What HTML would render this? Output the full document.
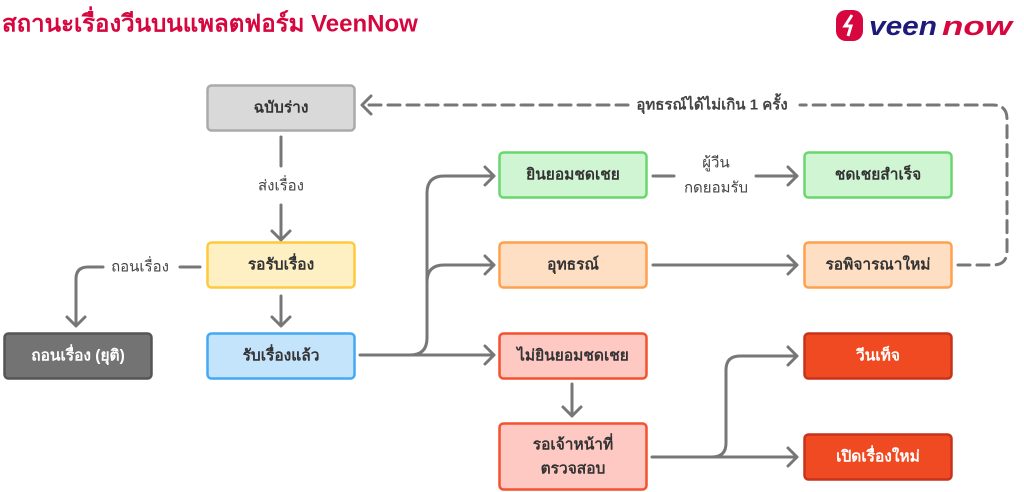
<!DOCTYPE html>
<html><head><meta charset="utf-8"><style>
body{margin:0;background:#fff;}
svg{display:block;}
text{font-family:"Liberation Sans","Noto Sans CJK SC",sans-serif;}
.b{font-weight:bold;font-size:15.5px;fill:#333;text-anchor:middle;dominant-baseline:central;}
.w{fill:#fff;}
.l{font-size:15px;fill:#444;text-anchor:middle;dominant-baseline:central;}
.c{fill:none;stroke:#777;stroke-width:3;stroke-linecap:round;stroke-linejoin:round;}
</style></head><body>
<svg width="1024" height="492" viewBox="0 0 1024 492" xmlns="http://www.w3.org/2000/svg">
<text x="2" y="24" font-size="24" font-weight="bold" fill="#d6063f" dominant-baseline="central">สถานะเรื่องวีนบนแพลตฟอร์ม VeenNow</text>
<!-- logo -->
<rect x="836" y="10" width="27" height="31" rx="10" fill="#d6063f"/>
<path d="M852 15 l-7 11 h6 l-3 10" stroke="#fff" stroke-width="3" fill="none"/>
<text x="869" y="26" font-size="27" font-weight="bold" font-style="italic" fill="#1d1a7a" dominant-baseline="central" textLength="68" lengthAdjust="spacingAndGlyphs">veen</text>
<text x="942" y="26" font-size="27" font-weight="bold" font-style="italic" fill="#d6063f" dominant-baseline="central" textLength="70" lengthAdjust="spacingAndGlyphs">now</text>

<!-- connectors -->
<path class="c" d="M281 137 V166 M281 205 V240 M272 231 l9 9 l9 -9"/>
<path class="c" d="M281 296 V326 M272 317 l9 9 l9 -9"/>
<path class="c" d="M200 267 H180 M103 267 H88 Q76 267 76 279 V326 M67 317 l9 9 l9 -9"/>
<path class="c" d="M360 355 H494 M485 346 l9 9 l-9 9 M410 355 Q427 355 427 338 V193 Q427 176 444 176 H494 M485 167 l9 9 l-9 9 M427 282 Q427 265 444 265 H494 M485 256 l9 9 l-9 9"/>
<path class="c" d="M653 176 H674 M756 176 H797 M788 167 l9 9 l-9 9"/>
<path class="c" d="M653 265 H797 M788 256 l9 9 l-9 9"/>
<path class="c" d="M572 384 V416 M563 407 l9 9 l9 -9"/>
<path class="c" d="M652 457 H797 M788 448 l9 9 l-9 9 M712 457 Q726 457 726 443 V370 Q726 356 740 356 H797 M788 347 l9 9 l-9 9"/>
<path class="c" d="M958 265 H993 Q1007 265 1007 251 V119 Q1007 105 993 105 H800" stroke-dasharray="12 7"/>
<path class="c" d="M628 105 H362" stroke-dasharray="12 7"/>
<path class="c" d="M371 96 l-9 9 l9 9"/>
<text class="l" x="712" y="105" font-weight="bold" fill="#333">อุทธรณ์ได้ไม่เกิน 1 ครั้ง</text>
<text class="l" x="281" y="186">ส่งเรื่อง</text>
<text class="l" x="140" y="267">ถอนเรื่อง</text>
<text class="l" x="716" y="163">ผู้วีน</text>
<text class="l" x="716" y="188">กดยอมรับ</text>

<!-- boxes -->
<rect x="207.5" y="85.5" width="147" height="45" rx="4" fill="#d9d9d9" stroke="#aaa" stroke-width="2.5"/>
<text class="b" x="281" y="108">ฉบับร่าง</text>
<rect x="207.5" y="242.5" width="147" height="45" rx="4" fill="#fff0c4" stroke="#ffc93d" stroke-width="2.5"/>
<text class="b" x="281" y="265">รอรับเรื่อง</text>
<rect x="207.5" y="333.5" width="147" height="45" rx="4" fill="#c4e4fc" stroke="#44a9f5" stroke-width="2.5"/>
<text class="b" x="281" y="356">รับเรื่องแล้ว</text>
<rect x="4.5" y="333.5" width="147" height="45" rx="4" fill="#737373" stroke="#555" stroke-width="2.5"/>
<text class="b w" x="78" y="356">ถอนเรื่อง (ยุติ)</text>
<rect x="499.5" y="152.5" width="147" height="45" rx="4" fill="#d0f5d3" stroke="#69d66e" stroke-width="2.5"/>
<text class="b" x="573" y="175">ยินยอมชดเชย</text>
<rect x="804.5" y="152.5" width="147" height="45" rx="4" fill="#d0f5d3" stroke="#69d66e" stroke-width="2.5"/>
<text class="b" x="878" y="175">ชดเชยสำเร็จ</text>
<rect x="499.5" y="242.5" width="147" height="45" rx="4" fill="#ffdfc4" stroke="#ffa04d" stroke-width="2.5"/>
<text class="b" x="573" y="265">อุทธรณ์</text>
<rect x="804.5" y="242.5" width="147" height="45" rx="4" fill="#ffdfc4" stroke="#ffa04d" stroke-width="2.5"/>
<text class="b" x="878" y="265">รอพิจารณาใหม่</text>
<rect x="499.5" y="333.5" width="147" height="45" rx="4" fill="#ffc9c3" stroke="#f4512f" stroke-width="2.5"/>
<text class="b" x="573" y="356">ไม่ยินยอมชดเชย</text>
<rect x="499.5" y="423.5" width="147" height="66" rx="4" fill="#ffc9c3" stroke="#f4512f" stroke-width="2.5"/>
<text class="b" x="573" y="445">รอเจ้าหน้าที่</text>
<text class="b" x="573" y="469">ตรวจสอบ</text>
<rect x="804.5" y="333.5" width="147" height="45" rx="4" fill="#f04a22" stroke="#c8321a" stroke-width="2.5"/>
<text class="b w" x="878" y="356">วีนเท็จ</text>
<rect x="804.5" y="434.5" width="147" height="45" rx="4" fill="#f04a22" stroke="#c8321a" stroke-width="2.5"/>
<text class="b w" x="878" y="457">เปิดเรื่องใหม่</text>
</svg>
</body></html>
